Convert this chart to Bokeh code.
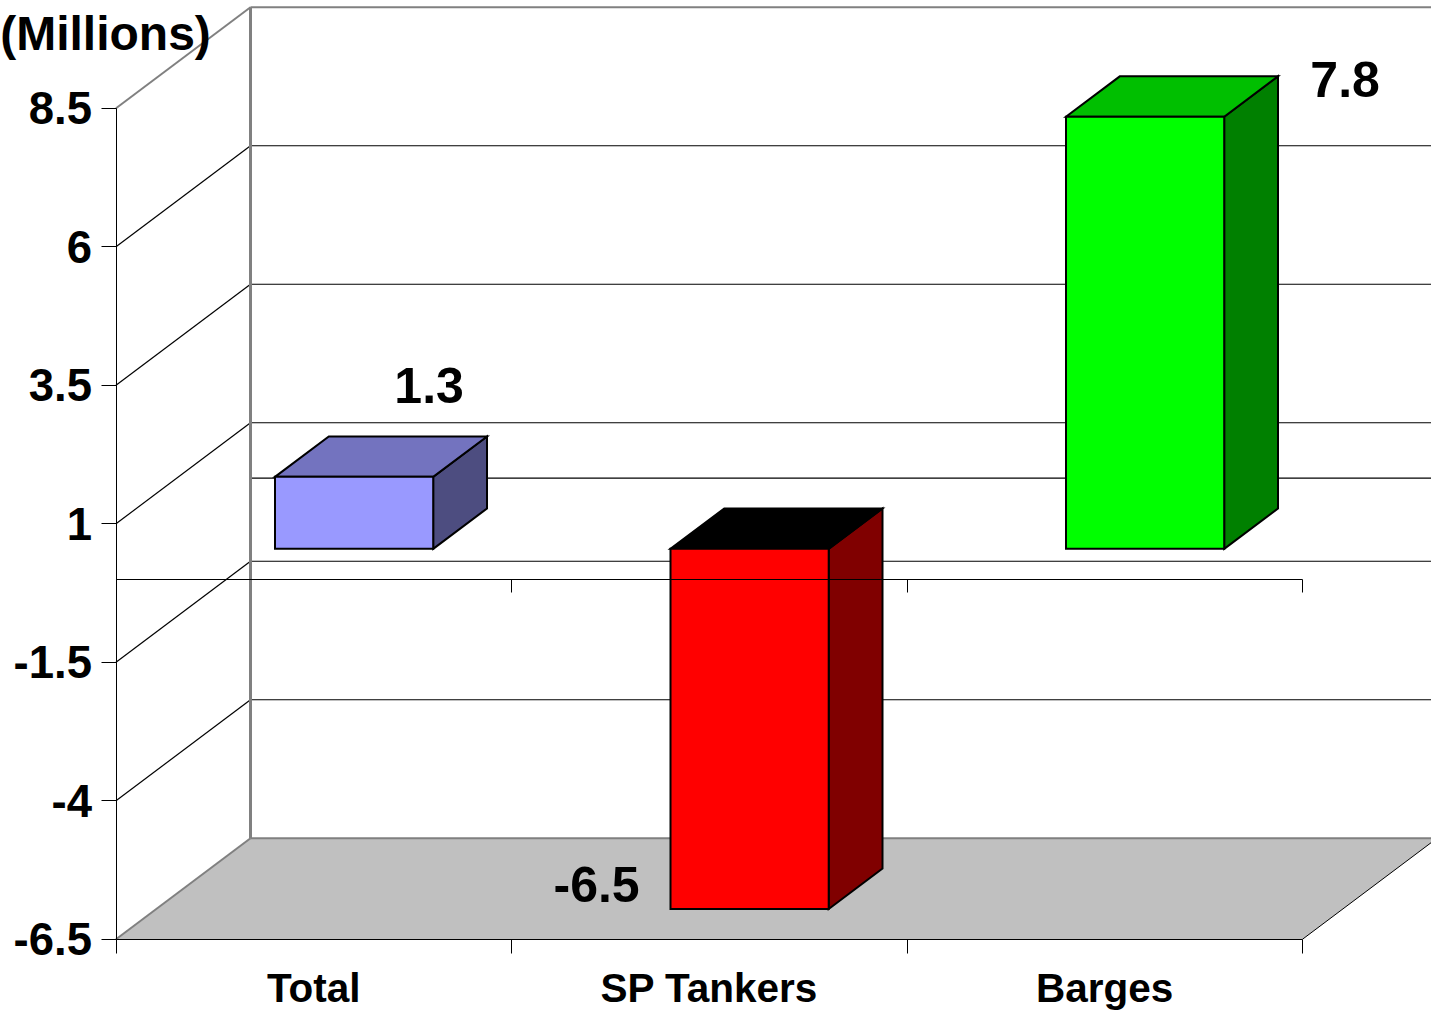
from bokeh.embed import file_html
from bokeh.models import ColumnDataSource, FixedTicker, Label, LinearAxis, Range1d
from bokeh.plotting import figure
from bokeh.resources import INLINE

# Chart content
categories = ["Total", "SP Tankers", "Barges"]
values = [1.3, -6.5, 7.8]
value_labels = ["1.3", "-6.5", "7.8"]
tick_values = [-6.5, -4, -1.5, 1, 3.5, 6, 8.5]
tick_labels = ["-6.5", "-4", "-1.5", "1", "3.5", "6", "8.5"]
unit_label = "(Millions)"

# Bar colours: front, top and side faces
front_colors = ["#9999FF", "#FF0000", "#00FF00"]
top_colors = ["#7373BF", "#000000", "#00BF00"]
side_colors = ["#4D4D80", "#800000", "#008000"]

# Page geometry, in pixels
WIDTH, HEIGHT = 1431, 1011
LEFT, BOTTOM = 115.5, 72.25
PX_PER_CAT = 395.5
PX_PER_UNIT = 55.4

# Oblique projection: depth 0 is the front plane, depth 1 the back wall
DEPTH_DX = 134.5 / PX_PER_CAT
DEPTH_DY = 101 / PX_PER_UNIT
BAR_START, BAR_END = 0.3, 0.7
DEPTH_START, DEPTH_END = 0.3, 0.7

FONT = "Liberation Sans"
v_min, v_max = tick_values[0], tick_values[-1]
n_cat = len(categories)


def project(x, v, depth):
    return x + depth * DEPTH_DX, v + depth * DEPTH_DY


def face(corners):
    pts = [project(*c) for c in corners]
    return [p[0] for p in pts], [p[1] for p in pts]


# The frame fills the page; all axes are placed at fixed data locations inside it
x_end = (WIDTH - LEFT) / PX_PER_CAT
y_start = v_min - BOTTOM / PX_PER_UNIT
p = figure(
    width=WIDTH,
    height=HEIGHT,
    output_backend="svg",
    toolbar_location=None,
    x_range=Range1d(-LEFT / PX_PER_CAT, x_end),
    y_range=Range1d(y_start, y_start + HEIGHT / PX_PER_UNIT),
    x_axis_location=None,
    y_axis_location=None,
    min_border_left=0,
    min_border_right=0,
    min_border_top=0,
    min_border_bottom=0,
    outline_line_color=None,
    background_fill_color="white",
    border_fill_color="white",
)
p.grid.visible = False

x_far = x_end + 0.1

# Floor
p.patch(*face([(0, v_min, 0), (n_cat, v_min, 0), (n_cat, v_min, 1), (0, v_min, 1)]),
        fill_color="#C0C0C0", line_color=None)
p.line(*face([(n_cat, v_min, 0), (n_cat, v_min, 1)]), line_color="#000000", line_width=1)

# Gridlines on the side wall and the back wall
for tv in tick_values:
    wall_color = "#808080" if tv in (v_min, v_max) else "#000000"
    wall_width = 2 if tv in (v_min, v_max) else 1.2
    p.line(*face([(0, tv, 0), (0, tv, 1)]), line_color=wall_color, line_width=wall_width)
    p.line(*face([(0, tv, 1), (x_far, tv, 1)]), line_color=wall_color, line_width=wall_width)
p.line(*face([(0, 0, 1), (x_far, 0, 1)]), line_color="#000000", line_width=1.2)
p.line(*face([(0, v_min, 1), (0, v_max, 1)]), line_color="#808080", line_width=3)

# Extruded bars, each rising from the zero level
for i, val in enumerate(values):
    x0, x1 = i + BAR_START, i + BAR_END
    d0, d1 = DEPTH_START, DEPTH_END
    hi, lo = max(val, 0), min(val, 0)
    side = face([(x1, lo, d0), (x1, lo, d1), (x1, hi, d1), (x1, hi, d0)])
    top = face([(x0, hi, d0), (x1, hi, d0), (x1, hi, d1), (x0, hi, d1)])
    front = face([(x0, lo, d0), (x1, lo, d0), (x1, hi, d0), (x0, hi, d0)])
    for (xs, ys), color in ((side, side_colors[i]), (top, top_colors[i]), (front, front_colors[i])):
        p.patch(xs, ys, fill_color=color, line_color="#000000", line_width=2, line_join="miter")

# Value labels, anchored to the front-centre of each bar
anchors = [project(i + 0.5, val, DEPTH_START) for i, val in enumerate(values)]
label_source = ColumnDataSource(dict(
    x=[a[0] for a in anchors],
    y=[a[1] for a in anchors],
    text=value_labels,
    dx=[75, -153, 200],
    dy=[-91.5, -24, -37.5],
))
p.text(
    x="x", y="y", text="text", x_offset="dx", y_offset="dy", source=label_source,
    text_font={"value": FONT}, text_font_style="bold", text_font_size="50px",
    text_color="#000000", text_align="center", text_baseline="middle",
)

# Value axis on the front plane
y_axis = LinearAxis(
    fixed_location=0,
    ticker=FixedTicker(ticks=tick_values),
    major_label_overrides=dict(zip(tick_values, tick_labels)),
    bounds=(v_min, v_max),
    axis_line_color="#000000",
    axis_line_width=1,
    major_tick_line_color="#000000",
    major_tick_line_width=1,
    major_tick_in=0,
    major_tick_out=15,
    minor_tick_line_color=None,
    major_label_text_font=FONT,
    major_label_text_font_style="bold",
    major_label_text_font_size="45.5px",
    major_label_text_color="#000000",
    major_label_standoff=9,
)
p.add_layout(y_axis, "left")

# Category axis: labels at bar centres, ticks on category boundaries
cat_ticks = [i + 0.5 for i in range(n_cat)]
boundaries = list(range(n_cat + 1))
x_axis = LinearAxis(
    fixed_location=v_min,
    ticker=FixedTicker(ticks=cat_ticks, minor_ticks=boundaries),
    major_label_overrides=dict(zip(cat_ticks, categories)),
    bounds=(0, n_cat),
    axis_line_color="#000000",
    axis_line_width=1,
    major_tick_line_color=None,
    major_tick_in=0,
    major_tick_out=0,
    minor_tick_line_color="#000000",
    minor_tick_line_width=1,
    minor_tick_in=0,
    minor_tick_out=14,
    major_label_text_font=FONT,
    major_label_text_font_style="bold",
    major_label_text_font_size="40.5px",
    major_label_text_color="#000000",
    major_label_standoff=12,
)
p.add_layout(x_axis, "below")

# Zero line drawn across the bars
zero_axis = LinearAxis(
    fixed_location=0,
    ticker=FixedTicker(ticks=boundaries),
    major_label_overrides={b: "" for b in boundaries},
    bounds=(0, n_cat),
    axis_line_color="#000000",
    axis_line_width=1,
    major_tick_line_color="#000000",
    major_tick_line_width=1,
    major_tick_in=0,
    major_tick_out=13,
    minor_tick_line_color=None,
    major_label_text_font_size="0px",
)
p.add_layout(zero_axis, "below")

p.add_layout(Label(
    x=-10.5 / PX_PER_CAT,
    y=v_max + 75 / PX_PER_UNIT,
    text=unit_label,
    text_font=FONT,
    text_font_style="bold",
    text_font_size="48px",
    text_color="#000000",
    text_align="center",
    text_baseline="middle",
))

open("out.html", "w").write(file_html(p, INLINE))
